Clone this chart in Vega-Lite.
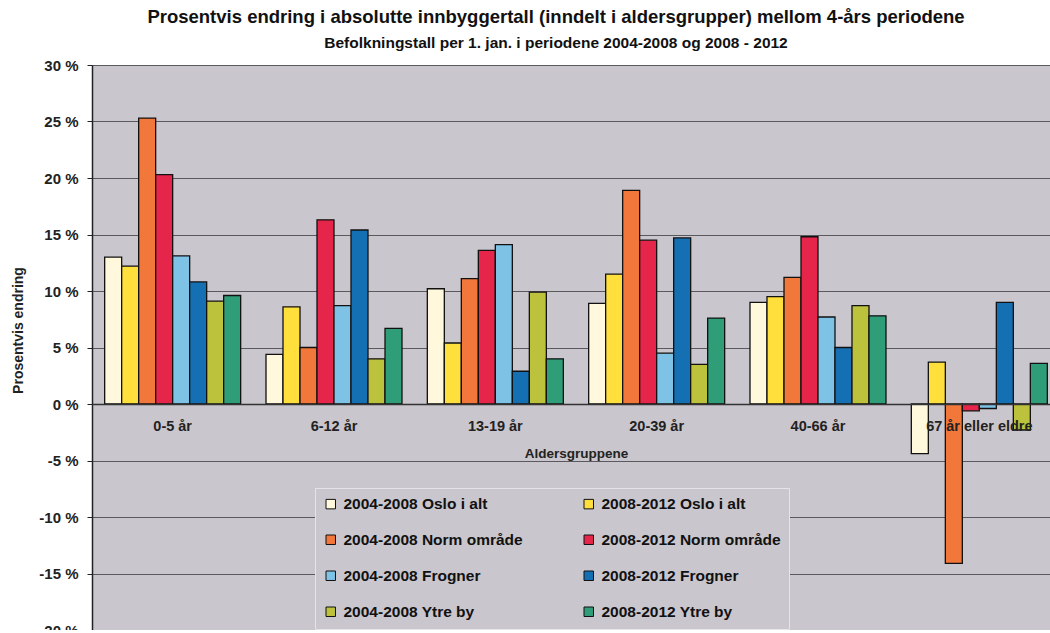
{
  "$schema": "https://vega.github.io/schema/vega-lite/v6.json",
  "autosize": {"type": "none"},
  "padding": {"left": 92, "top": 65, "right": 0, "bottom": 0},
  "width": 968,
  "height": 565,
  "background": "white",
  "config": {
    "view": {"fill": "#cac6cd", "stroke": null},
    "font": "Liberation Sans"
  },
  "title": {
    "text": "Prosentvis endring i absolutte innbyggertall (inndelt i aldersgrupper) mellom 4-års periodene",
    "subtitle": "Befolkningstall per 1. jan. i  periodene 2004-2008 og 2008 - 2012",
    "fontSize": 18.5,
    "fontWeight": "bold",
    "subtitleFontSize": 15.5,
    "subtitleFontWeight": "bold",
    "color": "#111",
    "subtitleColor": "#111",
    "anchor": "middle",
    "dx": -20,
    "offset": 7,
    "subtitlePadding": 9
  },
  "data": {
    "values": [
      {"g": "0-5 år", "s": "2004-2008 Oslo i alt", "v": 13.0},
      {"g": "0-5 år", "s": "2008-2012 Oslo i alt", "v": 12.2},
      {"g": "0-5 år", "s": "2004-2008 Norm område", "v": 25.3},
      {"g": "0-5 år", "s": "2008-2012 Norm område", "v": 20.3},
      {"g": "0-5 år", "s": "2004-2008 Frogner", "v": 13.1},
      {"g": "0-5 år", "s": "2008-2012 Frogner", "v": 10.8},
      {"g": "0-5 år", "s": "2004-2008 Ytre by", "v": 9.1},
      {"g": "0-5 år", "s": "2008-2012 Ytre by", "v": 9.6},
      {"g": "6-12 år", "s": "2004-2008 Oslo i alt", "v": 4.4},
      {"g": "6-12 år", "s": "2008-2012 Oslo i alt", "v": 8.6},
      {"g": "6-12 år", "s": "2004-2008 Norm område", "v": 5.0},
      {"g": "6-12 år", "s": "2008-2012 Norm område", "v": 16.3},
      {"g": "6-12 år", "s": "2004-2008 Frogner", "v": 8.7},
      {"g": "6-12 år", "s": "2008-2012 Frogner", "v": 15.4},
      {"g": "6-12 år", "s": "2004-2008 Ytre by", "v": 4.0},
      {"g": "6-12 år", "s": "2008-2012 Ytre by", "v": 6.7},
      {"g": "13-19 år", "s": "2004-2008 Oslo i alt", "v": 10.2},
      {"g": "13-19 år", "s": "2008-2012 Oslo i alt", "v": 5.4},
      {"g": "13-19 år", "s": "2004-2008 Norm område", "v": 11.1},
      {"g": "13-19 år", "s": "2008-2012 Norm område", "v": 13.6},
      {"g": "13-19 år", "s": "2004-2008 Frogner", "v": 14.1},
      {"g": "13-19 år", "s": "2008-2012 Frogner", "v": 2.9},
      {"g": "13-19 år", "s": "2004-2008 Ytre by", "v": 9.9},
      {"g": "13-19 år", "s": "2008-2012 Ytre by", "v": 4.0},
      {"g": "20-39 år", "s": "2004-2008 Oslo i alt", "v": 8.9},
      {"g": "20-39 år", "s": "2008-2012 Oslo i alt", "v": 11.5},
      {"g": "20-39 år", "s": "2004-2008 Norm område", "v": 18.9},
      {"g": "20-39 år", "s": "2008-2012 Norm område", "v": 14.5},
      {"g": "20-39 år", "s": "2004-2008 Frogner", "v": 4.5},
      {"g": "20-39 år", "s": "2008-2012 Frogner", "v": 14.7},
      {"g": "20-39 år", "s": "2004-2008 Ytre by", "v": 3.5},
      {"g": "20-39 år", "s": "2008-2012 Ytre by", "v": 7.6},
      {"g": "40-66 år", "s": "2004-2008 Oslo i alt", "v": 9.0},
      {"g": "40-66 år", "s": "2008-2012 Oslo i alt", "v": 9.5},
      {"g": "40-66 år", "s": "2004-2008 Norm område", "v": 11.2},
      {"g": "40-66 år", "s": "2008-2012 Norm område", "v": 14.8},
      {"g": "40-66 år", "s": "2004-2008 Frogner", "v": 7.7},
      {"g": "40-66 år", "s": "2008-2012 Frogner", "v": 5.0},
      {"g": "40-66 år", "s": "2004-2008 Ytre by", "v": 8.7},
      {"g": "40-66 år", "s": "2008-2012 Ytre by", "v": 7.8},
      {"g": "67 år eller eldre", "s": "2004-2008 Oslo i alt", "v": -4.4},
      {"g": "67 år eller eldre", "s": "2008-2012 Oslo i alt", "v": 3.7},
      {"g": "67 år eller eldre", "s": "2004-2008 Norm område", "v": -14.1},
      {"g": "67 år eller eldre", "s": "2008-2012 Norm område", "v": -0.6},
      {"g": "67 år eller eldre", "s": "2004-2008 Frogner", "v": -0.4},
      {"g": "67 år eller eldre", "s": "2008-2012 Frogner", "v": 9.0},
      {"g": "67 år eller eldre", "s": "2004-2008 Ytre by", "v": -2.3},
      {"g": "67 år eller eldre", "s": "2008-2012 Ytre by", "v": 3.6}
    ]
  },
  "mark": {"type": "bar", "stroke": "#111", "strokeWidth": 1.3},
  "encoding": {
    "x": {
      "field": "g",
      "type": "nominal",
      "sort": null,
      "scale": {"paddingInner": 0, "paddingOuter": 0},
      "axis": {
        "title": "Aldersgruppene",
        "titleFontSize": 13.5,
        "titleFontWeight": "bold",
        "titleColor": "#222",
        "titlePadding": 14,
        "labelAngle": 0,
        "labelFontSize": 14.5,
        "labelFontWeight": "bold",
        "labelColor": "#222",
        "labelPadding": 15,
        "offset": -226,
        "domainColor": "#333",
        "domainWidth": 1.5,
        "ticks": false,
        "zindex": 1
      }
    },
    "xOffset": {
      "field": "s",
      "type": "nominal",
      "sort": null,
      "scale": {"paddingInner": 0, "paddingOuter": 0.745}
    },
    "y": {
      "field": "v",
      "type": "quantitative",
      "scale": {"domain": [-20, 30], "nice": false},
      "axis": {
        "title": "Prosentvis endring",
        "titleFontSize": 14,
        "titleFontWeight": "bold",
        "titleColor": "#222",
        "titlePadding": 13,
        "titleY": 265,
        "values": [-20, -15, -10, -5, 0, 5, 10, 15, 20, 25, 30],
        "labelExpr": "datum.value + ' %'",
        "labelFontSize": 15,
        "labelFontWeight": "bold",
        "labelColor": "#222",
        "labelPadding": 9,
        "tickColor": "#222",
        "tickSize": 5,
        "domainColor": "#222",
        "domainWidth": 1.5,
        "grid": true,
        "gridColor": "#5a5a5e",
        "gridWidth": 1.2
      }
    },
    "color": {
      "field": "s",
      "type": "nominal",
      "sort": null,
      "scale": {
        "domain": ["2004-2008 Oslo i alt", "2008-2012 Oslo i alt", "2004-2008 Norm område", "2008-2012 Norm område", "2004-2008 Frogner", "2008-2012 Frogner", "2004-2008 Ytre by", "2008-2012 Ytre by"],
        "range": ["#fff8dc", "#ffdf3c", "#f1773a", "#e5254a", "#7ec2e6", "#1470b2", "#bdc23c", "#2f9d78"]
      },
      "legend": {
        "title": null,
        "orient": "none",
        "legendX": 223,
        "legendY": 423,
        "direction": "horizontal",
        "columns": 2,
        "columnPadding": 58,
        "rowPadding": 19,
        "symbolType": "square",
        "symbolSize": 90,
        "symbolStrokeColor": "#111",
        "symbolStrokeWidth": 1,
        "symbolOffset": 0,
        "labelOffset": 5,
        "labelFontSize": 15.5,
        "labelFontWeight": "bold",
        "labelColor": "#111",
        "labelLimit": 300,
        "padding": 8,
        "fillColor": "#cac6cd",
        "strokeColor": "#e6e4e8"
      }
    }
  }
}
